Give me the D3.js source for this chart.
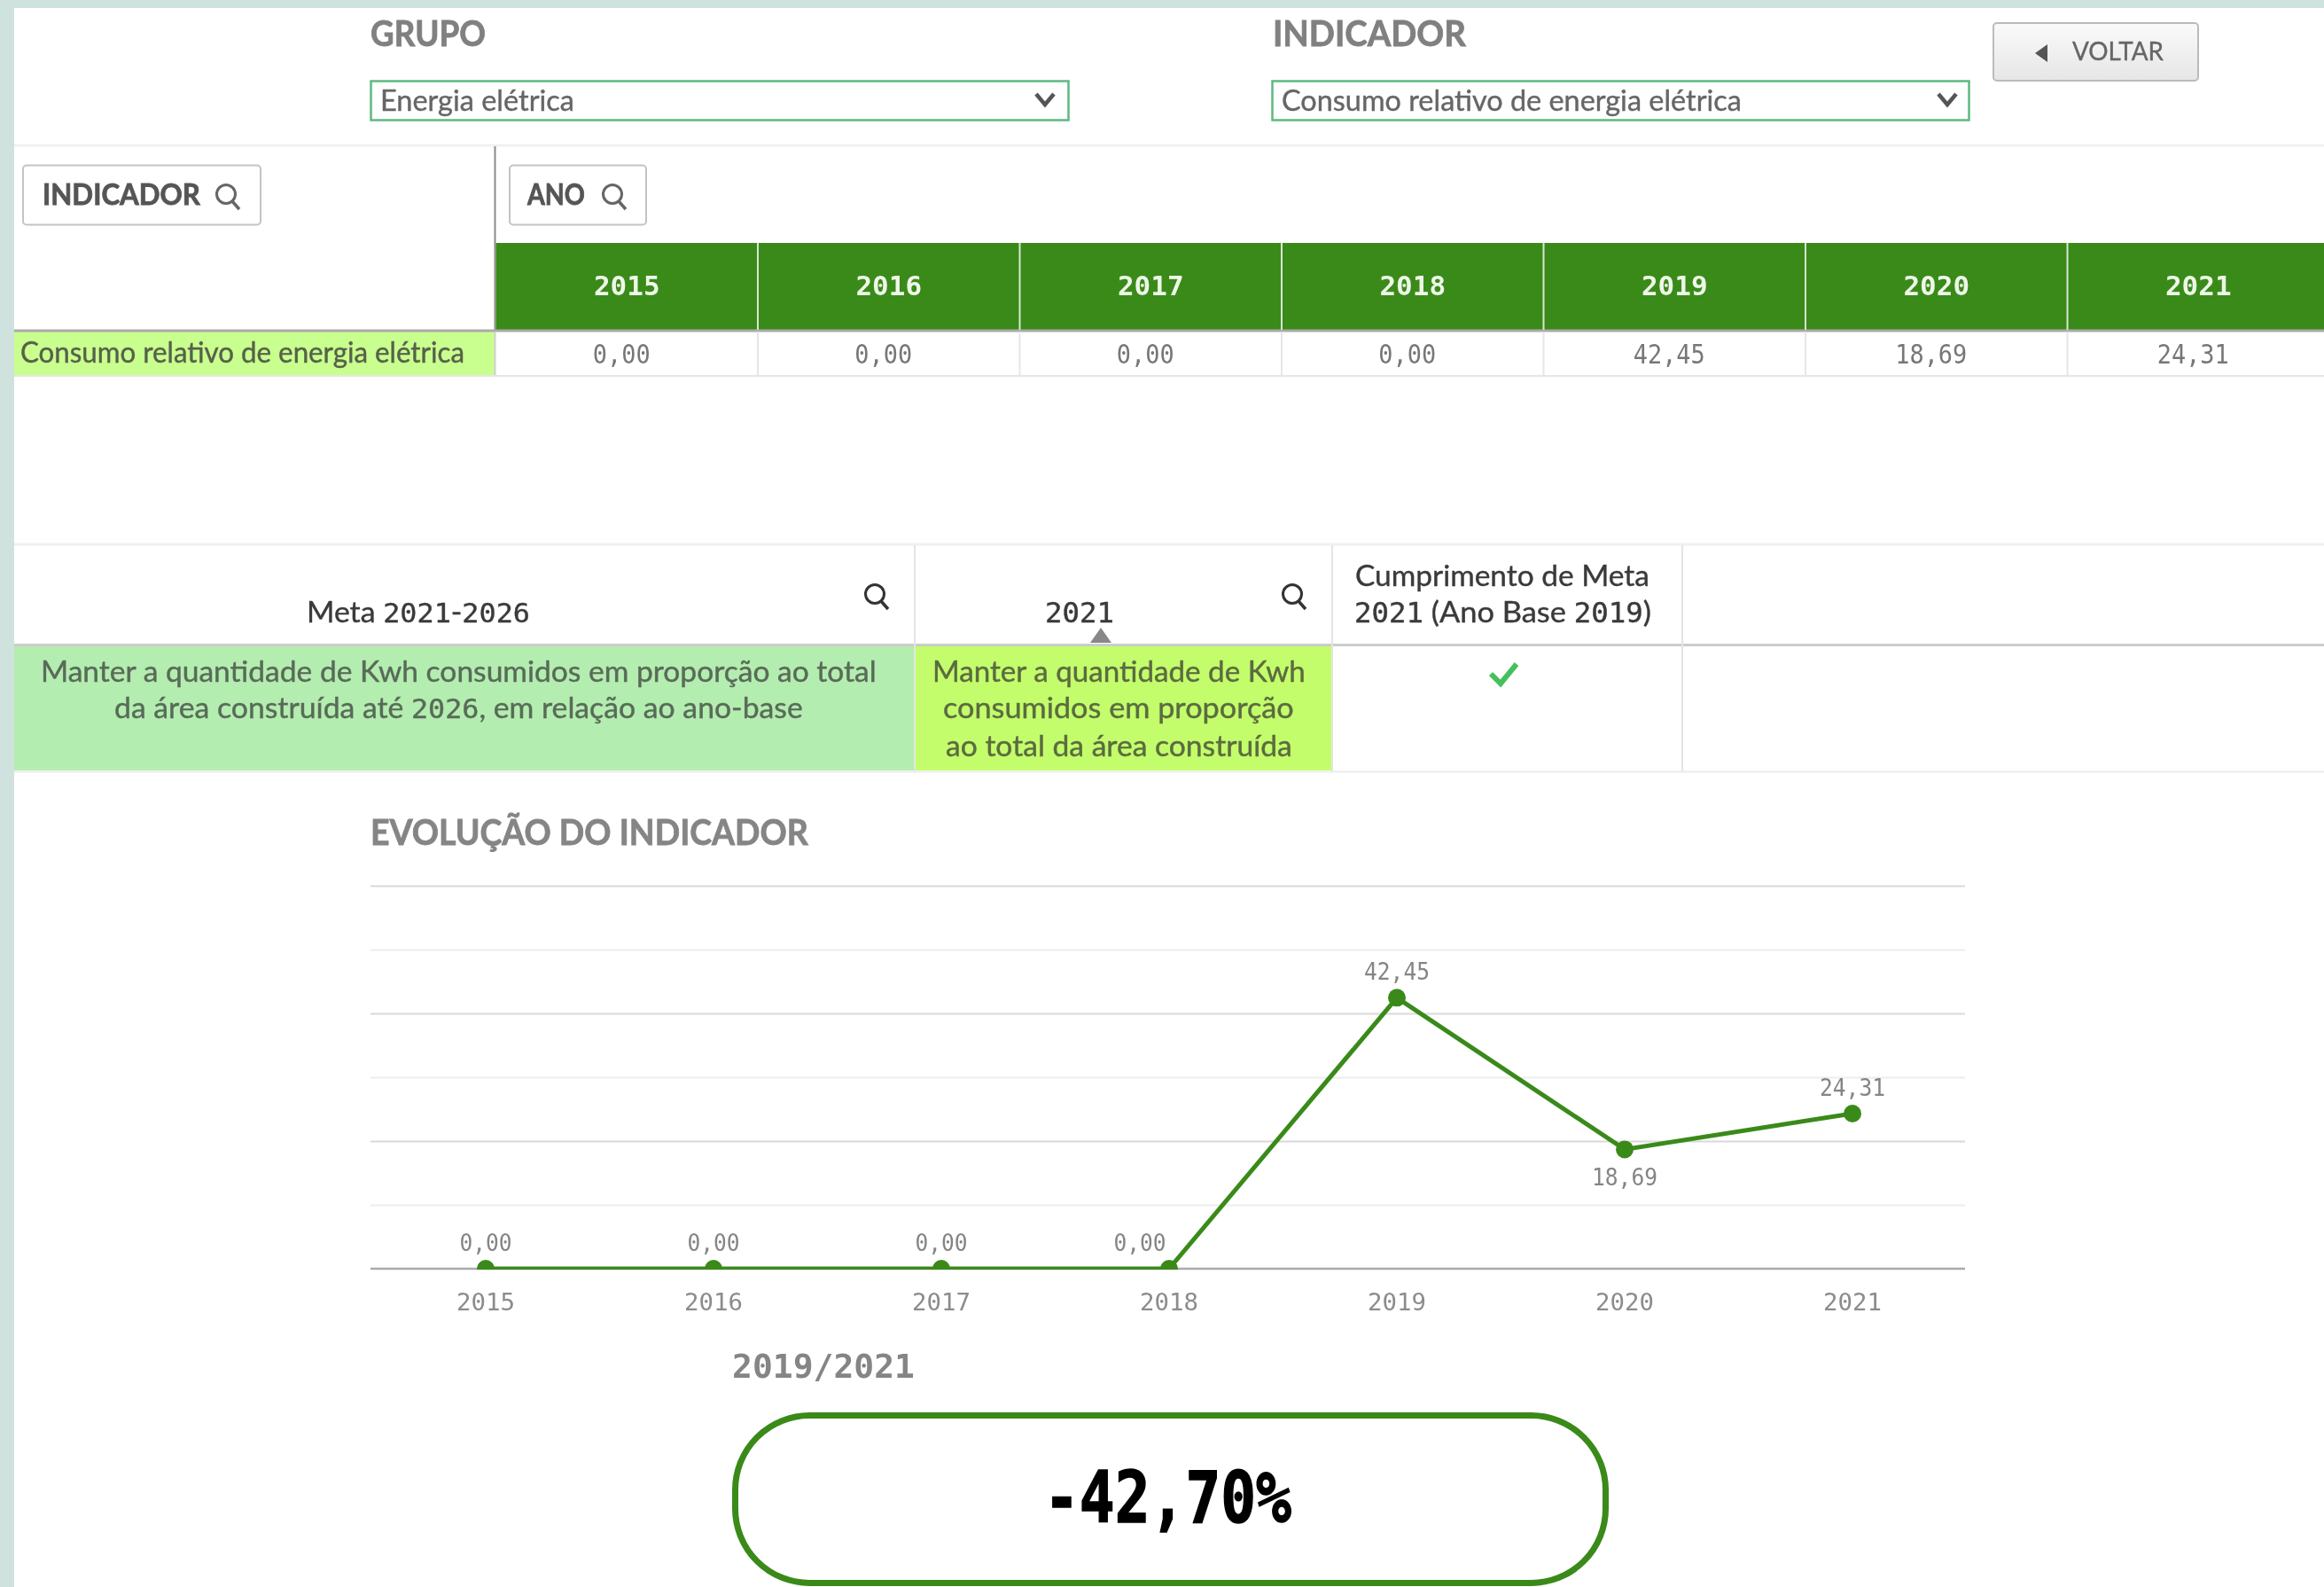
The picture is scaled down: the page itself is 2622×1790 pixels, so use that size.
<!DOCTYPE html>
<html>
<head>
<meta charset="utf-8">
<script src="https://cdn.jsdelivr.net/npm/d3@7"></script>
<style>
  html, body { margin: 0; padding: 0; background: #fff; overflow: hidden; }
  svg { display: block; filter: blur(0.7px); }
</style>
</head>
<body>
<div class="chart-container"></div>
<script>
// Values.
const years = ["2015", "2016", "2017", "2018", "2019", "2020", "2021"];
const consumo = [0, 0, 0, 0, 42.45, 18.69, 24.31];
const gridTicks = [0, 10, 20, 30, 40, 50, 60];
const indicadorNome = "Consumo relativo de energia elétrica";
const grupoNome = "Energia elétrica";
const metaLinhas = [
  "Manter a quantidade de Kwh consumidos em proporção ao total",
  "da área construída até 2026, em relação ao ano-base",
];
const meta2021Linhas = [
  "Manter a quantidade de Kwh",
  "consumidos em proporção",
  "ao total da área construída",
];
const cumprimentoLinhas = ["Cumprimento de Meta", "2021 (Ano Base 2019)"];
const periodo = "2019/2021";
const variacao = "-42,70%";

const GREEN = "#3a8a1a";
const SANS = "Lato, 'Open Sans', sans-serif";
const MONO = "'DejaVu Sans Mono', monospace";

const svg = d3
  .select(".chart-container")
  .append("svg")
  .attr("width", 2622)
  .attr("height", 1790)
  .style("font-family", SANS);

// Drawing utilities.
// Text squeezed to the width it has in the picture, digits in the mono face.
function fitText(str, x0, x1, base, size, color, weight) {
  const t = svg
    .append("text")
    .attr("font-size", size)
    .attr("font-weight", weight || 400)
    .attr("fill", color)
    .attr("stroke", color)
    .attr("stroke-width", weight ? 0.8 : 0.4);
  str.split(/(\d+)/).forEach((part, i) => {
    if (!part) return;
    const span = t.append("tspan").text(part);
    if (i % 2 === 1) span.attr("font-family", MONO).attr("font-size", size * 0.94);
  });
  const w = t.node().getComputedTextLength();
  t.attr("transform", `translate(${x0},${base}) scale(${(x1 - x0) / w},1)`);
  return t;
}

function hLine(x1, x2, y, color, w) {
  svg
    .append("line")
    .attr("x1", x1)
    .attr("x2", x2)
    .attr("y1", y)
    .attr("y2", y)
    .attr("stroke", color)
    .attr("stroke-width", w);
}

function vLine(x, y1, y2, color, w) {
  svg
    .append("line")
    .attr("x1", x)
    .attr("x2", x)
    .attr("y1", y1)
    .attr("y2", y2)
    .attr("stroke", color)
    .attr("stroke-width", w);
}

function box(x, y, w, h, fill) {
  return svg
    .append("rect")
    .attr("x", x)
    .attr("y", y)
    .attr("width", w)
    .attr("height", h)
    .attr("fill", fill);
}

function searchIcon(cx, cy, color) {
  svg
    .append("circle")
    .attr("cx", cx)
    .attr("cy", cy)
    .attr("r", 10.5)
    .attr("fill", "none")
    .attr("stroke", color)
    .attr("stroke-width", 3);
  svg
    .append("line")
    .attr("x1", cx + 7)
    .attr("y1", cy + 8)
    .attr("x2", cx + 15)
    .attr("y2", cy + 17)
    .attr("stroke", color)
    .attr("stroke-width", 3.5);
}

function chevron(cx, cy) {
  svg
    .append("path")
    .attr("d", `M${cx - 10},${cy - 6}L${cx},${cy + 6}L${cx + 10},${cy - 6}`)
    .attr("fill", "none")
    .attr("stroke", "#555")
    .attr("stroke-width", 4.5);
}

function selectBox(x, w) {
  svg
    .append("rect")
    .attr("x", x)
    .attr("y", 91.5)
    .attr("width", w)
    .attr("height", 44)
    .attr("fill", "#fff")
    .attr("stroke", "#5db981")
    .attr("stroke-width", 2.5);
}

function tagButton(x, w) {
  svg
    .append("rect")
    .attr("x", x)
    .attr("y", 186.5)
    .attr("width", w)
    .attr("height", 67)
    .attr("rx", 4)
    .attr("fill", "#fff")
    .attr("stroke", "#c4c4c4")
    .attr("stroke-width", 2);
}

// Background strips.
box(0, 0, 2622, 9, "#cfe2de");
box(0, 0, 16, 1790, "#cfe2de");

// Filters.
fitText("GRUPO", 418, 548, 52, 40, "#808080", 700);
fitText("INDICADOR", 1436, 1654, 52, 40, "#808080", 700);
selectBox(418.5, 787);
selectBox(1435.5, 786);
fitText(grupoNome, 429, 648, 125, 33, "#666");
fitText(indicadorNome, 1446, 1965, 125, 33, "#666");
chevron(1179, 112);
chevron(2197, 112);

const btnGrad = svg
  .append("defs")
  .append("linearGradient")
  .attr("id", "btn-grad")
  .attr("x1", 0)
  .attr("x2", 0)
  .attr("y1", 0)
  .attr("y2", 1);
btnGrad.append("stop").attr("offset", "0%").attr("stop-color", "#fafafa");
btnGrad.append("stop").attr("offset", "100%").attr("stop-color", "#e6e6e6");
svg
  .append("rect")
  .attr("x", 2249)
  .attr("y", 26)
  .attr("width", 231)
  .attr("height", 65)
  .attr("rx", 4)
  .attr("fill", "url(#btn-grad)")
  .attr("stroke", "#bbb")
  .attr("stroke-width", 2);
svg.append("path").attr("d", "M2310,50L2296,60L2310,70Z").attr("fill", "#555");
fitText("VOLTAR", 2338, 2441, 68, 29, "#666");

hLine(16, 2622, 164, "#f1f1f1", 3);

// Pivot table.
const colX = d3.scaleBand().domain(years).range([559.5, 559.5 + 295.5 * 7]);

vLine(558.5, 165, 373, "#8a8a8a", 2);
tagButton(26, 268);
tagButton(575, 154);
fitText("INDICADOR", 48, 226, 231, 32, "#555", 700);
fitText("ANO", 595, 660, 231, 32, "#555", 700);
searchIcon(255, 219, "#666");
searchIcon(691, 219, "#666");

svg
  .selectAll(".head-cell")
  .data(years)
  .enter()
  .append("rect")
  .attr("class", "head-cell")
  .attr("x", (d) => colX(d))
  .attr("y", 274)
  .attr("width", colX.bandwidth())
  .attr("height", 98)
  .attr("fill", GREEN);

svg
  .selectAll(".head-label")
  .data(years)
  .enter()
  .append("text")
  .attr("class", "head-label")
  .attr("x", (d) => colX(d) + colX.bandwidth() / 2)
  .attr("y", 333)
  .attr("text-anchor", "middle")
  .attr("font-family", MONO)
  .attr("font-size", 31)
  .attr("font-weight", 700)
  .attr("fill", "#eef7e8")
  .text((d) => d);

box(16, 374, 542, 49, "#c9ff8e");
hLine(16, 2622, 373, "#aaaaaa", 3);
hLine(16, 2622, 424, "#e6e6e6", 2);
vLine(558.5, 374, 423, "#cfcfcf", 2);
fitText(indicadorNome, 23, 524, 409, 33, "#56614a");

const ptBr = d3.formatLocale({
  decimal: ",",
  thousands: ".",
  grouping: [3],
  currency: ["R$", ""],
});
const fmt = ptBr.format(".2f");

years.slice(1).forEach((y) => {
  vLine(colX(y), 274, 372, "#d8e6d0", 2);
  vLine(colX(y), 374, 423, "#e6e6e6", 2);
});

svg
  .selectAll(".cell-label")
  .data(consumo)
  .enter()
  .append("text")
  .attr("class", "cell-label")
  .attr("x", (d, i) => colX(years[i]) + colX.bandwidth() / 2 - 6)
  .attr("y", 410)
  .attr("text-anchor", "middle")
  .attr("font-family", MONO)
  .attr("font-size", 31)
  .attr("textLength", (d) => fmt(d).length * 16.2)
  .attr("lengthAdjust", "spacingAndGlyphs")
  .attr("fill", "#777")
  .text((d) => fmt(d));

// Goals table.
hLine(16, 2622, 614, "#f0f0f0", 3);
box(16, 729, 1016, 140, "#b4edb0");
box(1033, 729, 470, 140, "#c3fd6b");
hLine(16, 2622, 727.5, "#cccccc", 3);
hLine(16, 2622, 870.5, "#ececec", 2);
[1032, 1503, 1898].forEach((x) => vLine(x, 615, 870, "#e4e4e4", 2));

fitText("Meta 2021-2026", 346, 598, 702, 33, "#3a3a3a");
fitText("2021", 1179, 1257, 702, 33, "#3a3a3a");
searchIcon(987, 670, "#333");
searchIcon(1458, 670, "#333");
svg.append("path").attr("d", "M1230,725L1242,708L1254,725Z").attr("fill", "#888");
fitText(cumprimentoLinhas[0], 1529, 1861, 661, 33, "#3a3a3a");
fitText(cumprimentoLinhas[1], 1528, 1863, 702, 33, "#3a3a3a");

fitText(metaLinhas[0], 46, 989, 769, 33, "#586b58");
fitText(metaLinhas[1], 129, 906, 810, 33, "#586b58");
fitText(meta2021Linhas[0], 1052, 1473, 769, 33, "#5b6b40");
fitText(meta2021Linhas[1], 1064, 1460, 810, 33, "#5b6b40");
fitText(meta2021Linhas[2], 1067, 1458, 853, 33, "#5b6b40");

svg
  .append("path")
  .attr("d", "M1682,760L1693,771L1711,749")
  .attr("fill", "none")
  .attr("stroke", "#45c05c")
  .attr("stroke-width", 6);

// Line chart.
fitText("EVOLUÇÃO DO INDICADOR", 418, 912, 953, 40, "#858585", 700);

const xScale = d3.scaleBand().domain(years).range([419.5, 2218.5]);
const yScale = d3.scaleLinear().domain([0, 60]).range([1431, 999]);
const xMid = (y) => xScale(y) + xScale.bandwidth() / 2;

const chartData = years.map((y, i) => ({ year: y, value: consumo[i], i: i }));

svg
  .append("g")
  .attr("class", "y axis")
  .attr("transform", "translate(418,0)")
  .call(d3.axisLeft(yScale).tickValues(gridTicks.slice(1)).tickSize(-1799).tickFormat(""))
  .call((g) => g.select(".domain").remove())
  .selectAll("line")
  .attr("stroke", (d) => (d % 20 === 0 ? "#d9d9d9" : "#ededed"))
  .attr("stroke-width", 2);

const xAxisDraw = svg
  .append("g")
  .attr("class", "x axis")
  .attr("transform", "translate(0,1431)")
  .call(d3.axisBottom(xScale).tickSize(0));
xAxisDraw.select(".domain").attr("d", "M418,0H2217").attr("stroke", "#aaaaaa").attr("stroke-width", 2.5);
xAxisDraw
  .selectAll("text")
  .attr("y", 0)
  .attr("dy", 47)
  .attr("font-family", MONO)
  .attr("font-size", 27)
  .attr("textLength", 66)
  .attr("lengthAdjust", "spacingAndGlyphs")
  .attr("fill", "#8c8c8c");

svg
  .append("defs")
  .append("clipPath")
  .attr("id", "plot-clip")
  .append("rect")
  .attr("x", 418)
  .attr("y", 990)
  .attr("width", 1799)
  .attr("height", 442);

const plot = svg.append("g").attr("clip-path", "url(#plot-clip)");

plot
  .append("path")
  .datum(chartData)
  .attr("fill", "none")
  .attr("stroke", GREEN)
  .attr("stroke-width", 5)
  .attr(
    "d",
    d3
      .line()
      .x((d) => xMid(d.year))
      .y((d) => yScale(d.value))
  );

plot
  .selectAll(".dot")
  .data(chartData)
  .enter()
  .append("circle")
  .attr("class", "dot")
  .attr("cx", (d) => xMid(d.year))
  .attr("cy", (d) => yScale(d.value))
  .attr("r", 10)
  .attr("fill", GREEN);

// A value label goes under a dip, and steps aside from a line that rises right over it.
function isDip(d) {
  const prev = consumo[d.i - 1];
  const next = consumo[d.i + 1];
  return d.value > 0 && prev > d.value && next > d.value;
}
function risesNext(d) {
  return d.value === 0 && consumo[d.i + 1] > 0;
}

svg
  .selectAll(".value-label")
  .data(chartData)
  .enter()
  .append("text")
  .attr("class", "value-label")
  .attr("x", (d) => xMid(d.year) - (risesNext(d) ? 33 : 0))
  .attr("y", (d) => yScale(d.value) + (isDip(d) ? 41 : -20))
  .attr("text-anchor", "middle")
  .attr("font-family", MONO)
  .attr("font-size", 27)
  .attr("textLength", (d) => fmt(d.value).length * 14.8)
  .attr("lengthAdjust", "spacingAndGlyphs")
  .attr("fill", "#858585")
  .text((d) => fmt(d.value));

// Variation card.
svg
  .append("text")
  .attr("x", 826)
  .attr("y", 1554)
  .attr("font-family", MONO)
  .attr("font-weight", 700)
  .attr("font-size", 38)
  .attr("fill", "#858585")
  .text(periodo);

svg
  .append("rect")
  .attr("x", 829.5)
  .attr("y", 1596.5)
  .attr("width", 982)
  .attr("height", 189)
  .attr("rx", 84)
  .attr("fill", "#fff")
  .attr("stroke", GREEN)
  .attr("stroke-width", 7);

const card = svg
  .append("text")
  .attr("font-family", MONO)
  .attr("font-weight", 700)
  .attr("font-size", 80)
  .attr("fill", "#000")
  .attr("stroke", "#000")
  .attr("stroke-width", 1.5)
  .text(variacao);
card.attr(
  "transform",
  `translate(1178,1717) scale(${279 / card.node().getComputedTextLength()},1)`
);
</script>
</body>
</html>
